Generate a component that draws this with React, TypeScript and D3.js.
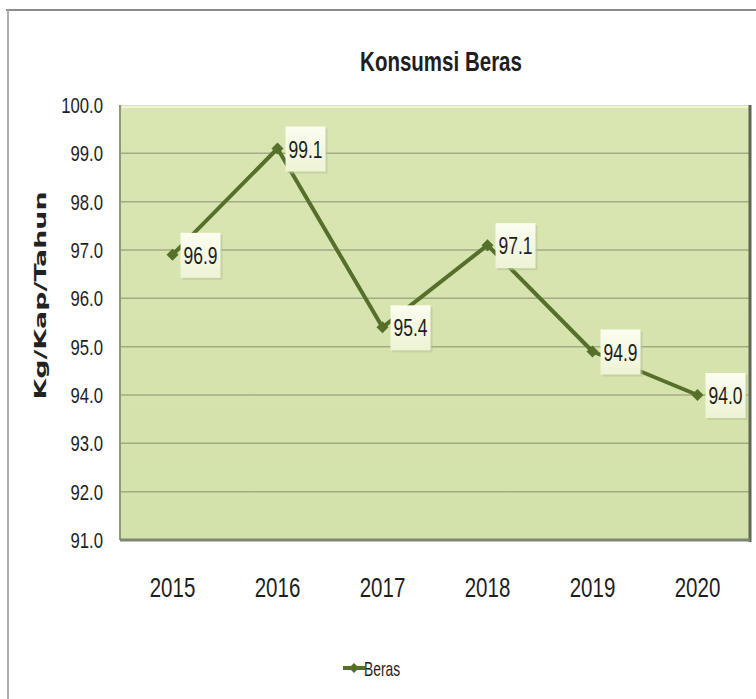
import React from "react";
import * as d3 from "d3";

const years = ["2015", "2016", "2017", "2018", "2019", "2020"];
const beras = [96.9, 99.1, 95.4, 97.1, 94.9, 94.0];
const yTicks = [91, 92, 93, 94, 95, 96, 97, 98, 99, 100];

const W = 756, H = 699;
const plot = { left: 120, top: 105, right: 750, bottom: 540 };
const FONT = "'Liberation Sans', Arial, sans-serif";
const SX = 0.76;

function NText(props: {
  x: number; y: number; size: number; anchor?: string; bold?: boolean;
  sx?: number; fill?: string; children: React.ReactNode;
}) {
  const { x, y, size, anchor = "middle", bold, sx = SX, fill = "#1e1e1e", children } = props;
  return (
    <text transform={`translate(${x},${y}) scale(${sx},1)`} textAnchor={anchor}
      fontFamily={FONT} fontSize={size} fontWeight={bold ? "bold" : "normal"} fill={fill}>
      {children}
    </text>
  );
}

export default function App() {
  const x = d3.scaleBand<string>().domain(years).range([plot.left, plot.right]);
  const y = d3.scaleLinear().domain([91, 100]).range([plot.bottom, plot.top]);
  const cx = (d: string) => (x(d) as number) + x.bandwidth() / 2;
  const pts = years.map((yr, i) => [cx(yr), y(beras[i])] as [number, number]);
  const line = d3.line()(pts) as string;
  const diamond = (px: number, py: number, r: number) =>
    `M${px},${py - r}L${px + r},${py}L${px},${py + r}L${px - r},${py}Z`;
  const lineColor = "#56702b";

  return (
    <svg width={W} height={H} style={{ position: "absolute", left: 0, top: 0 }}>
      <defs>
        <linearGradient id="lbl" x1="0" y1="0" x2="0" y2="1">
          <stop offset="0" stopColor="#fbfdf0" />
          <stop offset="1" stopColor="#edf3d4" />
        </linearGradient>
        <linearGradient id="plotbg" x1="0" y1="0" x2="0" y2="1">
          <stop offset="0" stopColor="#d9e6b3" />
          <stop offset="1" stopColor="#d3e1aa" />
        </linearGradient>
      </defs>
      <rect x={0} y={0} width={W} height={H} fill="#ffffff" />
      {/* outer chart border */}
      <line x1={6} y1={10} x2={W} y2={10} stroke="#8c8c8c" strokeWidth={2} />
      <line x1={8} y1={10} x2={8} y2={H} stroke="#b0b0b0" strokeWidth={2} />

      {/* title */}
      <NText x={441} y={71} size={27} bold>Konsumsi Beras</NText>

      {/* plot area */}
      <rect x={plot.left} y={plot.top} width={plot.right - plot.left}
        height={plot.bottom - plot.top} fill="url(#plotbg)" />
      {yTicks.filter(t => t !== 91 && t !== 100).map(t => (
        <line key={t} x1={plot.left} x2={plot.right} y1={y(t)} y2={y(t)}
          stroke="#9fad84" strokeWidth={1.5} />
      ))}
      <line x1={plot.left + 2} x2={plot.right - 2} y1={plot.top + 2} y2={plot.top + 2}
        stroke="#eef5d8" strokeWidth={2} />
      <line x1={plot.left} x2={plot.left} y1={plot.top} y2={plot.bottom}
        stroke="#8e9a78" strokeWidth={2} />
      <line x1={plot.right} x2={plot.right} y1={plot.top} y2={plot.bottom + 2}
        stroke="#5f6655" strokeWidth={3} />
      <line x1={plot.left} x2={plot.right} y1={plot.bottom} y2={plot.bottom}
        stroke="#7d8770" strokeWidth={3} />

      {/* y tick labels */}
      {yTicks.map(t => (
        <NText key={t} x={103} y={y(t) + 8} size={22} anchor="end">{t.toFixed(1)}</NText>
      ))}
      {/* y axis title */}
      <text transform={`translate(46,${(plot.top + plot.bottom) / 2 - 27}) rotate(-90)`}
        textAnchor="middle" fontFamily="'DejaVu Sans', Verdana, sans-serif"
        fontSize={16} fontWeight="bold" fill="#222"
        textLength={208} lengthAdjust="spacingAndGlyphs">Kg/Kap/Tahun</text>

      {/* x labels */}
      {years.map(yr => (
        <NText key={yr} x={cx(yr)} y={597} size={27}>{yr}</NText>
      ))}

      {/* series */}
      <path d={line} fill="none" stroke={lineColor} strokeWidth={4} strokeLinejoin="round" />
      {pts.map(([px, py], i) => (
        <path key={i} d={diamond(px, py, 6)} fill={lineColor} />
      ))}

      {/* data labels */}
      {pts.map(([px, py], i) => (
        <g key={i}>
          <rect x={px + 10} y={py - 20} width={40} height={45} fill="#b9c49a" opacity={0.6} />
          <rect x={px + 8} y={py - 22} width={40} height={45} fill="url(#lbl)" />
          <NText x={px + 28} y={py + 9} size={23}>{beras[i].toFixed(1)}</NText>
        </g>
      ))}

      {/* legend */}
      <line x1={343} x2={365} y1={668} y2={668} stroke={lineColor} strokeWidth={4} />
      <path d={diamond(354, 668, 5)} fill={lineColor} />
      <NText x={364} y={676} size={21} anchor="start" sx={0.66}>Beras</NText>
    </svg>
  );
}
